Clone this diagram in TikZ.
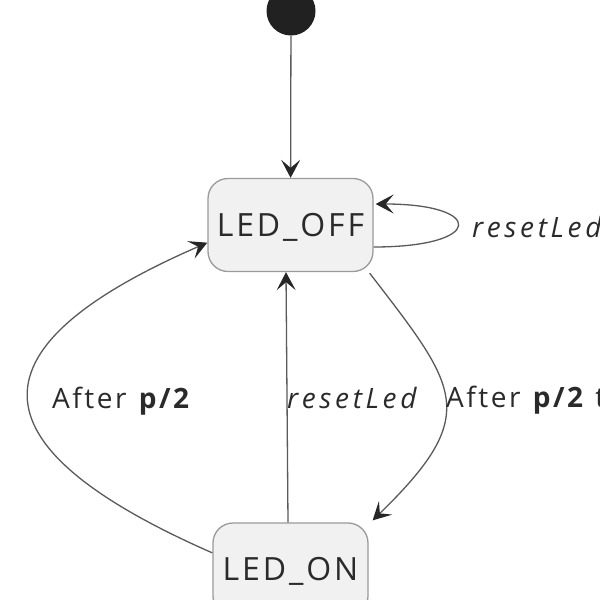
\documentclass[tikz,border=0pt]{standalone}
\usepackage{fontspec}
\setmainfont{Open Sans}[LetterSpace=9,ItalicFeatures={LetterSpace=13}]
\usetikzlibrary{arrows.meta,calc}
\definecolor{stfill}{HTML}{F1F1F1}
\definecolor{stdraw}{HTML}{9A9A9A}
\definecolor{lncol}{HTML}{5A5A5A}
\definecolor{txcol}{HTML}{2A2A2A}
\begin{document}
\begin{tikzpicture}[x=1pt,y=-1pt,
  statebox/.style={draw=stdraw,fill=stfill,line width=1.3pt,rounded corners=20pt,
    minimum width=#1,minimum height=93pt,inner sep=0pt,
    text height=22.5pt,text depth=0pt,
    font=\fontsize{32}{36}\selectfont,text=txcol},
  arr/.style={draw=lncol,line width=1.3pt,-{Stealth[length=18pt,width=19pt,inset=8pt,color=black!85]}},
  lbl/.style={font=\fontsize{28}{32}\selectfont,text=txcol,anchor=base west,inner sep=0pt}]
\useasboundingbox (0,0) rectangle (600,600);
\fill[fill=white] (0,0) rectangle (600,600);
\node[circle,fill=black!87,minimum size=49pt,inner sep=0pt] (init) at (291,11) {};
\node[statebox=165pt] (off) at (290.5,225) {LED\_OFF};
\node[statebox=155pt] (on) at (290.5,569.5) {LED\_ON};
% initial
\draw[arr] (init) -- (off);
% self loop
\coordinate (la) at ($(off.east)+(0,22)$);
\coordinate (lb) at ($(off.east)+(2,-21)$);
\draw[arr] (la) .. controls (485,247) and (485,204) .. (lb);
\node[lbl] (l1) at (472,237) {\itshape resetLed};
% left arc
\draw[arr] (on.168) .. controls (-22,450) and (-42,351) .. (off.192);
\node[lbl] (l2) at (52,408) {After \textbf{p/2}};
% middle
\draw[arr] ([xshift=-2.5pt]on.north) -- ([xshift=-4.5pt]off.south);
\node[lbl] (l3) at (287,408) {\itshape resetLed};
% right arc
\coordinate (ra) at ($(off.south east)+(-4,1)$);
\coordinate (rb) at ($(on.north east)+(4,-2)$);
\draw[arr] (ra) .. controls (458,388) and (482,414) .. (rb);
\node[lbl] (l4) at (446,407) {After \textbf{p/2} t};
\end{tikzpicture}
\end{document}
